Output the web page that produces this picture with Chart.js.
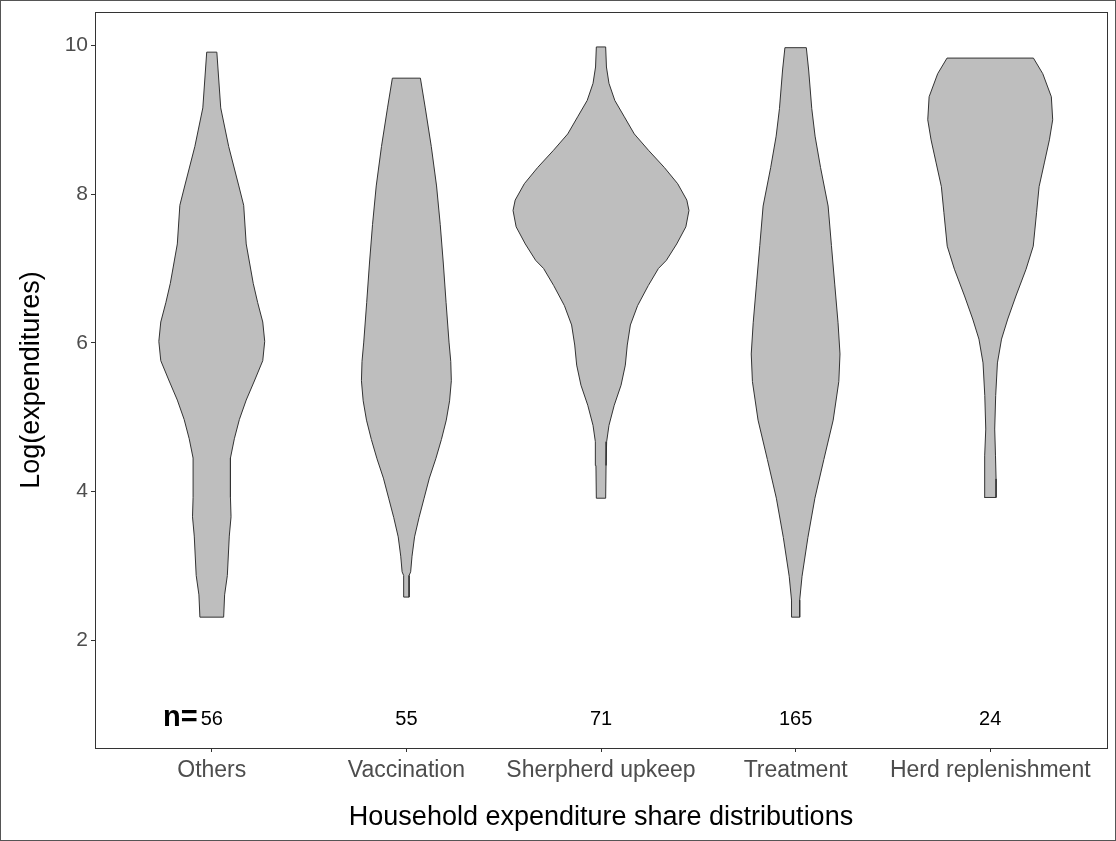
<!DOCTYPE html>
<html>
<head>
<meta charset="utf-8">
<script src="https://cdn.jsdelivr.net/npm/chart.js@4.4.0/dist/chart.umd.min.js"></script>
<style>
  html, body { margin: 0; padding: 0; background: #ffffff; }
  #wrap { width: 1116px; height: 841px; }
</style>
</head>
<body>
<div id="wrap"><canvas id="c" width="1116" height="841"></canvas></div>
<script>
// ---- data ----
const categories = ['Others', 'Vaccination', 'Sherpherd upkeep', 'Treatment', 'Herd replenishment'];
const nCounts = [56, 55, 71, 165, 24];
const nLabelLevel = 0.94;
const yTicks = [2, 4, 6, 8, 10];

// violin outlines: log(expenditure) levels (top to bottom) and half-widths (in category units)
const othersLevels = [9.91, 9.16, 8.64, 8.11, 7.85, 7.33, 6.80, 6.54, 6.28, 6.02, 5.76, 5.50, 5.23, 4.97, 4.71, 4.45, 3.92, 3.66, 3.40, 2.87, 2.61, 2.31];
const othersHalfWidth = [0.026, 0.046, 0.087, 0.139, 0.164, 0.177, 0.213, 0.236, 0.262, 0.272, 0.262, 0.221, 0.177, 0.142, 0.116, 0.096, 0.096, 0.099, 0.090, 0.080, 0.066, 0.061];

const vaccinationLevels = [9.56, 9.16, 8.64, 8.11, 7.59, 7.06, 6.54, 6.01, 5.75, 5.49, 5.22, 4.96, 4.70, 4.44, 4.18, 3.91, 3.65, 3.39, 3.13, 2.92, 2.87, 2.58];
const vaccinationHalfWidth = [0.072, 0.097, 0.128, 0.155, 0.174, 0.190, 0.204, 0.219, 0.228, 0.231, 0.222, 0.205, 0.180, 0.151, 0.118, 0.091, 0.065, 0.042, 0.029, 0.022, 0.014, 0.014];

const shepherdLevels = [9.98, 9.71, 9.49, 9.26, 9.04, 8.81, 8.59, 8.36, 8.14, 7.92, 7.78, 7.56, 7.33, 7.11, 7.00, 6.77, 6.50, 6.24, 5.97, 5.70, 5.43, 5.16, 4.89, 4.67, 4.35, 3.91];
const shepherdHalfWidth = [0.024, 0.028, 0.041, 0.071, 0.120, 0.171, 0.244, 0.325, 0.394, 0.441, 0.452, 0.436, 0.389, 0.336, 0.295, 0.243, 0.188, 0.151, 0.135, 0.125, 0.103, 0.068, 0.041, 0.029, 0.026, 0.024];

const treatmentLevels = [9.97, 9.67, 9.15, 8.78, 8.36, 7.84, 7.31, 6.79, 6.27, 5.85, 5.48, 4.96, 4.43, 3.91, 3.38, 2.86, 2.54, 2.31];
const treatmentHalfWidth = [0.055, 0.067, 0.083, 0.100, 0.128, 0.167, 0.184, 0.201, 0.218, 0.228, 0.222, 0.193, 0.145, 0.099, 0.063, 0.033, 0.021, 0.021];

const herdLevels = [9.83, 9.62, 9.31, 9.00, 8.73, 8.42, 8.10, 7.75, 7.30, 6.99, 6.63, 6.32, 6.05, 5.73, 5.29, 4.84, 4.48, 4.17, 3.92];
const herdHalfWidth = [0.222, 0.270, 0.314, 0.321, 0.304, 0.278, 0.251, 0.238, 0.221, 0.184, 0.132, 0.090, 0.058, 0.037, 0.028, 0.023, 0.027, 0.030, 0.030];

const violinLevels = [othersLevels, vaccinationLevels, shepherdLevels, treatmentLevels, herdLevels];
const violinHalfWidths = [othersHalfWidth, vaccinationHalfWidth, shepherdHalfWidth, treatmentHalfWidth, herdHalfWidth];

// ---- build closed outlines ----
function violinOutline(center, levels, half) {
  const right = levels.map((y, i) => ({ x: center + half[i], y: y }));
  const left = levels.map((y, i) => ({ x: center - half[i], y: y })).reverse();
  return right.concat(left, [right[0]]);
}

const datasets = categories.map((name, i) => ({
  label: name,
  data: violinOutline(i + 1, violinLevels[i], violinHalfWidths[i]),
  showLine: true,
  fill: 'shape',
  backgroundColor: '#BEBEBE',
  borderColor: '#333333',
  borderWidth: 1,
  pointRadius: 0,
  tension: 0
}));

const FONT = '"Liberation Sans", Arial, sans-serif';

const framePlugin = {
  id: 'frame',
  beforeDraw(chart) {
    const ctx = chart.ctx;
    ctx.save();
    ctx.fillStyle = '#ffffff';
    ctx.fillRect(0, 0, chart.width, chart.height);
    ctx.restore();
  },
  afterDraw(chart) {
    const ctx = chart.ctx;
    const a = chart.chartArea;
    const xs = chart.scales.x, ys = chart.scales.y;
    ctx.save();
    // panel border
    ctx.strokeStyle = '#333333';
    ctx.lineWidth = 1;
    ctx.strokeRect(Math.round(a.left) + 0.5, Math.round(a.top) + 0.5, Math.round(a.right - a.left), Math.round(a.bottom - a.top));
    // outer border
    ctx.strokeStyle = '#555555';
    ctx.strokeRect(0.5, 0.5, chart.width - 1, chart.height - 1);
    // n labels
    const yPix = ys.getPixelForValue(nLabelLevel);
    ctx.fillStyle = '#000000';
    ctx.textBaseline = 'middle';
    ctx.textAlign = 'center';
    ctx.font = '20px ' + FONT;
    nCounts.forEach((n, i) => {
      ctx.fillText(String(n), xs.getPixelForValue(i + 1), yPix);
    });
    const firstW = ctx.measureText(String(nCounts[0])).width;
    ctx.font = 'bold 29px ' + FONT;
    ctx.textAlign = 'right';
    ctx.fillText('n=', xs.getPixelForValue(1) - firstW / 2 - 3, yPix - 1);
    ctx.restore();
  }
};

new Chart(document.getElementById('c'), {
  type: 'scatter',
  data: { datasets: datasets },
  options: {
    responsive: false,
    animation: false,
    events: [],
    layout: { padding: { top: 12, right: 9, left: 0, bottom: 0 } },
    plugins: { legend: { display: false }, tooltip: { enabled: false } },
    scales: {
      x: {
        type: 'linear',
        min: 0.4,
        max: 5.6,
        afterBuildTicks: (s) => { s.ticks = categories.map((c, i) => ({ value: i + 1 })); },
        afterFit: (s) => { s.height = 93; s.paddingLeft = 0; s.paddingRight = 0; },
        ticks: {
          autoSkip: false,
          maxRotation: 0,
          padding: 5,
          color: '#4D4D4D',
          font: { family: FONT, size: 23 },
          callback: (v) => categories[v - 1]
        },
        grid: { drawOnChartArea: false, drawTicks: true, tickLength: 4, tickColor: '#333333' },
        border: { display: false },
        title: {
          display: true,
          text: 'Household expenditure share distributions',
          color: '#000000',
          font: { family: FONT, size: 27 },
          padding: { top: 0, bottom: 7 }
        }
      },
      y: {
        type: 'linear',
        min: 0.55,
        max: 10.45,
        afterBuildTicks: (s) => { s.ticks = yTicks.map(v => ({ value: v })); },
        afterFit: (s) => { s.width = 95; s.paddingTop = 0; s.paddingBottom = 0; },
        ticks: {
          padding: 3,
          color: '#4D4D4D',
          font: { family: FONT, size: 21 }
        },
        grid: { drawOnChartArea: false, drawTicks: true, tickLength: 4, tickColor: '#333333' },
        border: { display: false },
        title: {
          display: true,
          text: 'Log(expenditures)',
          color: '#000000',
          font: { family: FONT, size: 27 },
          padding: { top: 15, bottom: 0 }
        }
      }
    }
  },
  plugins: [framePlugin]
});
</script>
</body>
</html>
